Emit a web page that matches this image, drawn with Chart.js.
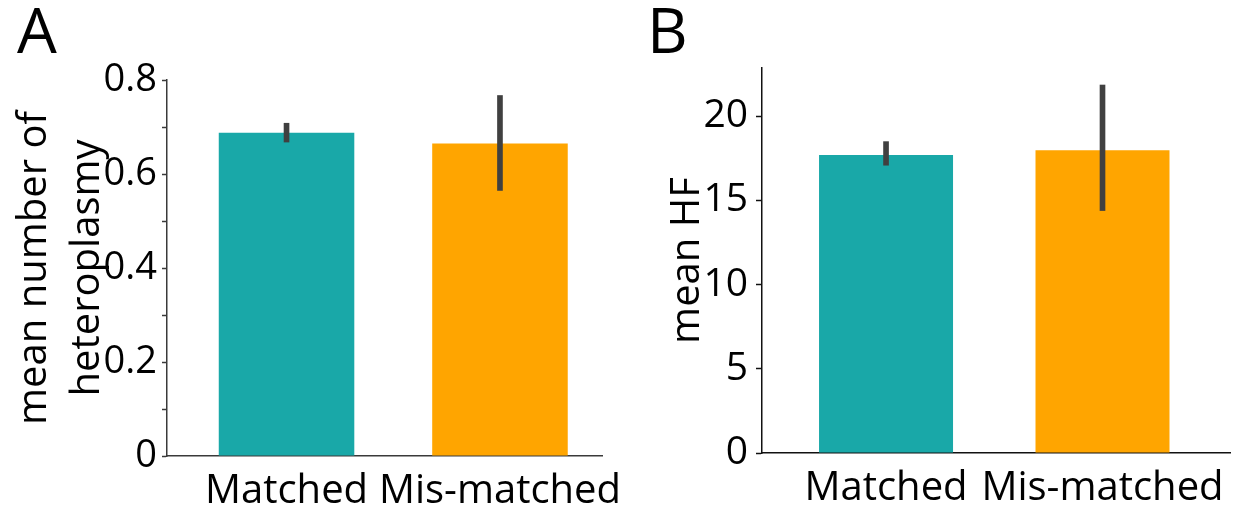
<!DOCTYPE html>
<html>
<head>
<meta charset="utf-8">
<script src="https://cdn.jsdelivr.net/npm/chart.js@4.4.0/dist/chart.umd.min.js"></script>
<style>
  body { margin: 0; background: #fff; width: 1254px; height: 515px; position: relative; overflow: hidden; font-family: 'Open Sans', sans-serif; }
  .panel { position: absolute; top: 0; width: 627px; height: 515px; }
  .letter { position: absolute; top: -3px; font-size: 63px; line-height: 63px; color: #000; }
</style>
</head>
<body>
<div class="panel" style="left:0"><canvas id="chartA" width="627" height="515"></canvas></div>
<div class="panel" style="left:627px"><canvas id="chartB" width="627" height="515"></canvas></div>
<div class="letter" style="left:17px">A</div>
<div class="letter" style="left:647px">B</div>
<script>
// categories (placed at x = 0 and 1 on a linear axis)
const groups = ['Matched', 'Mis-matched'];
const groupPos = [0, 1];
const barColors = ['#19a8a8', '#ffa500'];
const errColor = '#404040';

// panel A : mean number of heteroplasmy
const heteroMean = [0.688, 0.665];
const heteroLow = [0.668, 0.565];
const heteroHigh = [0.708, 0.767];

// panel B : mean HF
const hfMean = [17.69, 17.97];
const hfLow = [17.08, 14.39];
const hfHigh = [18.48, 21.84];

Chart.defaults.font.family = "'Open Sans', sans-serif";
Chart.defaults.color = '#000';

// build one panel (bars + error bars drawn as thin floating bars)
function makePanel(id, cfg) {
  const ctx = document.getElementById(id);
  return new Chart(ctx, {
    type: 'bar',
    data: {
      datasets: [
        {
          data: groupPos.map((x, i) => ({ x: x, y: [cfg.low[i], cfg.high[i]] })),
          backgroundColor: errColor,
          barThickness: 5,
          grouped: false,
          order: 0
        },
        {
          data: groupPos.map((x, i) => ({ x: x, y: cfg.mean[i] })),
          backgroundColor: barColors,
          barPercentage: cfg.barPct,
          categoryPercentage: 1,
          grouped: false,
          order: 1
        }
      ]
    },
    options: {
      responsive: false,
      animation: false,
      layout: { padding: { left: 0, top: cfg.top, right: cfg.right, bottom: 0 } },
      plugins: { legend: { display: false }, title: { display: false }, tooltip: { enabled: false } },
      scales: {
        x: {
          type: 'linear',
          min: cfg.xMin,
          max: cfg.xMax,
          offset: false,
          border: { display: true, color: cfg.axisColor, width: 1.5 },
          grid: { drawOnChartArea: false, drawTicks: false },
          ticks: {
            autoSkip: false,
            maxRotation: 0,
            padding: 12,
            font: { size: 40 },
            callback: v => groups[groupPos.indexOf(v)] || ''
          },
          afterBuildTicks: s => { s.ticks = groupPos.map(v => ({ value: v })); },
          afterFit: s => {
            s.height = cfg.xHeight;
            // labels sit inside the axis range, no extra room needed at the ends
            s.paddingLeft = 0;
            s.paddingRight = 0;
          }
        },
        y: {
          min: 0,
          max: cfg.yMax,
          border: { display: true, color: cfg.axisColor, width: 1.5 },
          grid: { drawOnChartArea: false, drawTicks: true, tickLength: cfg.tickLen, tickColor: cfg.axisColor, tickWidth: 1.5 },
          ticks: {
            stepSize: cfg.step,
            autoSkip: false,
            padding: cfg.tickPad,
            font: { size: cfg.tickSize },
            callback: cfg.tickLabel
          },
          afterBuildTicks: cfg.keepTicks,
          title: {
            display: true,
            text: cfg.yTitle,
            font: { size: 40, lineHeight: 1.325 },
            padding: { top: cfg.titlePad, bottom: 0 }
          },
          afterFit: s => { s.width = cfg.yWidth; }
        }
      }
    }
  });
}

makePanel('chartA', {
  mean: heteroMean, low: heteroLow, high: heteroHigh,
  barPct: 0.635, xMin: -0.56, xMax: 1.478,
  yMax: 0.8, step: 0.1,
  tickLabel: v => { const k = Math.round(v * 10); return k % 2 === 0 ? String(k / 10) : ''; },
  keepTicks: undefined,
  yTitle: ['mean number of', 'heteroplasmy'],
  titlePad: 8.5, tickLen: 5, tickPad: 5, tickSize: 38,
  yWidth: 167, xHeight: 59, top: 80, right: 25,
  axisColor: '#3a3a3a'
});

makePanel('chartB', {
  mean: hfMean, low: hfLow, high: hfHigh,
  barPct: 0.619, xMin: -0.573, xMax: 1.589,
  yMax: 22.85, step: 5,
  tickLabel: v => String(v),
  keepTicks: s => { s.ticks = s.ticks.filter(t => Math.abs(t.value % 5) < 1e-9); },
  yTitle: 'mean HF',
  titlePad: 34.5, tickLen: 6, tickPad: 8, tickSize: 39,
  yWidth: 135, xHeight: 62, top: 68, right: 24,
  axisColor: '#111'
});
</script>
</body>
</html>
